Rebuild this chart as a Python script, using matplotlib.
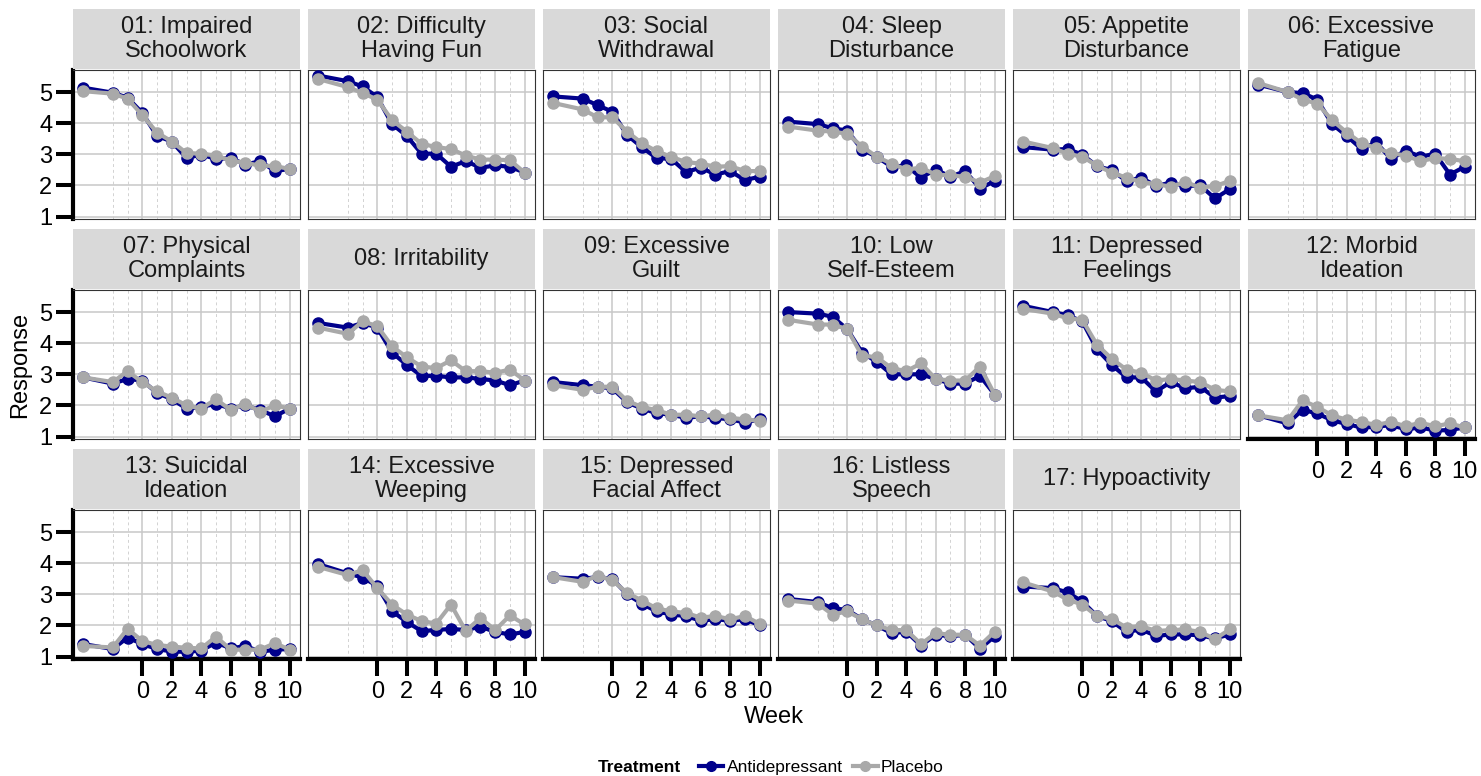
import matplotlib
matplotlib.use("Agg")
import matplotlib.pyplot as plt
from matplotlib.patches import Rectangle
from matplotlib.lines import Line2D

plt.rcParams['font.family'] = ['Liberation Sans', 'DejaVu Sans']

weeks = [-4, -2, -1, 0, 1, 2, 3, 4, 5, 6, 7, 8, 9, 10]

items = [
    "01: Impaired\nSchoolwork", "02: Difficulty\nHaving Fun", "03: Social\nWithdrawal",
    "04: Sleep\nDisturbance", "05: Appetite\nDisturbance", "06: Excessive\nFatigue",
    "07: Physical\nComplaints", "08: Irritability", "09: Excessive\nGuilt",
    "10: Low\nSelf-Esteem", "11: Depressed\nFeelings", "12: Morbid\nIdeation",
    "13: Suicidal\nIdeation", "14: Excessive\nWeeping", "15: Depressed\nFacial Affect",
    "16: Listless\nSpeech", "17: Hypoactivity",
]

# mean response by week, one row per item
antidepressant = [
    [5.14, 4.98, 4.82, 4.33, 3.59, 3.41, 2.88, 2.99, 2.85, 2.88, 2.67, 2.78, 2.46, 2.53],
    [5.53, 5.35, 5.18, 4.84, 3.97, 3.59, 3.02, 3.02, 2.60, 2.78, 2.57, 2.64, 2.60, 2.41],
    [4.86, 4.79, 4.58, 4.37, 3.62, 3.23, 2.88, 2.85, 2.43, 2.57, 2.35, 2.46, 2.17, 2.28],
    [4.05, 3.97, 3.84, 3.76, 3.15, 2.92, 2.60, 2.64, 2.25, 2.51, 2.28, 2.46, 1.90, 2.14],
    [3.23, 3.15, 3.17, 2.99, 2.62, 2.49, 2.14, 2.25, 1.98, 2.09, 1.98, 2.00, 1.58, 1.88],
    [5.24, 5.00, 4.97, 4.76, 3.97, 3.59, 3.17, 3.38, 2.85, 3.12, 2.92, 3.02, 2.35, 2.60],
    [2.90, 2.70, 2.85, 2.80, 2.40, 2.20, 1.90, 1.95, 2.05, 1.90, 2.00, 1.85, 1.65, 1.90],
    [4.65, 4.50, 4.65, 4.50, 3.70, 3.30, 2.95, 2.95, 2.90, 2.90, 2.85, 2.80, 2.65, 2.80],
    [2.75, 2.65, 2.60, 2.55, 2.10, 1.90, 1.75, 1.70, 1.60, 1.65, 1.60, 1.55, 1.45, 1.55],
    [5.00, 4.95, 4.85, 4.45, 3.70, 3.40, 3.00, 3.00, 3.00, 2.85, 2.70, 2.70, 2.95, 2.35],
    [5.20, 5.00, 4.90, 4.70, 3.80, 3.30, 2.90, 2.90, 2.45, 2.75, 2.55, 2.60, 2.25, 2.30],
    [1.68, 1.42, 1.86, 1.74, 1.52, 1.40, 1.29, 1.31, 1.37, 1.23, 1.29, 1.19, 1.21, 1.29],
    [1.40, 1.24, 1.61, 1.40, 1.24, 1.16, 1.15, 1.19, 1.45, 1.26, 1.34, 1.15, 1.22, 1.24],
    [3.97, 3.67, 3.54, 3.27, 2.46, 2.11, 1.82, 1.85, 1.89, 1.85, 1.96, 1.79, 1.71, 1.79],
    [3.55, 3.50, 3.55, 3.50, 3.00, 2.70, 2.45, 2.35, 2.30, 2.15, 2.20, 2.15, 2.20, 2.00],
    [2.85, 2.75, 2.55, 2.50, 2.20, 2.00, 1.75, 1.80, 1.35, 1.70, 1.65, 1.70, 1.25, 1.65],
    [3.25, 3.20, 3.06, 2.77, 2.30, 2.14, 1.79, 1.87, 1.66, 1.71, 1.71, 1.68, 1.58, 1.71],
]

placebo = [
    [5.03, 4.95, 4.79, 4.26, 3.70, 3.41, 3.04, 3.02, 2.96, 2.80, 2.72, 2.64, 2.62, 2.53],
    [5.42, 5.16, 4.97, 4.76, 4.10, 3.73, 3.34, 3.23, 3.17, 2.96, 2.83, 2.83, 2.81, 2.41],
    [4.65, 4.44, 4.19, 4.19, 3.73, 3.36, 3.10, 2.92, 2.75, 2.70, 2.60, 2.62, 2.46, 2.46],
    [3.89, 3.76, 3.73, 3.66, 3.25, 2.92, 2.70, 2.51, 2.57, 2.35, 2.32, 2.28, 2.09, 2.30],
    [3.41, 3.20, 3.02, 2.92, 2.64, 2.41, 2.25, 2.11, 2.04, 1.96, 2.11, 1.93, 1.98, 2.14],
    [5.29, 5.00, 4.76, 4.63, 4.10, 3.70, 3.36, 3.20, 3.04, 2.96, 2.78, 2.88, 2.85, 2.78],
    [2.90, 2.75, 3.10, 2.75, 2.45, 2.25, 2.00, 1.90, 2.20, 1.85, 2.05, 1.80, 2.00, 1.90],
    [4.50, 4.30, 4.70, 4.55, 3.90, 3.55, 3.25, 3.20, 3.45, 3.10, 3.10, 3.05, 3.15, 2.80],
    [2.65, 2.50, 2.60, 2.60, 2.15, 1.95, 1.85, 1.70, 1.70, 1.65, 1.70, 1.60, 1.55, 1.50],
    [4.75, 4.60, 4.60, 4.45, 3.60, 3.55, 3.20, 3.10, 3.35, 2.85, 2.80, 2.80, 3.25, 2.35],
    [5.10, 4.95, 4.80, 4.75, 3.95, 3.50, 3.15, 3.05, 2.80, 2.85, 2.80, 2.75, 2.50, 2.45],
    [1.68, 1.52, 2.16, 1.95, 1.68, 1.54, 1.47, 1.37, 1.47, 1.33, 1.44, 1.33, 1.42, 1.29],
    [1.34, 1.29, 1.89, 1.50, 1.37, 1.32, 1.28, 1.26, 1.64, 1.22, 1.22, 1.22, 1.43, 1.22],
    [3.88, 3.62, 3.78, 3.20, 2.67, 2.35, 2.14, 2.06, 2.67, 1.82, 2.24, 1.85, 2.32, 2.03],
    [3.55, 3.40, 3.60, 3.45, 3.05, 2.80, 2.55, 2.45, 2.40, 2.25, 2.30, 2.20, 2.30, 2.05],
    [2.80, 2.70, 2.35, 2.45, 2.20, 2.00, 1.85, 1.85, 1.40, 1.75, 1.70, 1.70, 1.35, 1.80],
    [3.38, 3.09, 2.83, 2.67, 2.30, 2.21, 1.93, 1.98, 1.82, 1.85, 1.87, 1.79, 1.56, 1.87],
]

treatments = ["Antidepressant", "Placebo"]
colors = ["#00008B", "#A9A9A9"]

W, H = 1481, 776
fig = plt.figure(figsize=(W / 100, H / 100), dpi=100)

ncol = 6
pw, ph = 227, 149
for i, label in enumerate(items):
    r, c = divmod(i, ncol)
    left = 73 + c * 235
    top = 70 + r * 220
    ax = fig.add_axes([left / W, 1 - (top + ph) / H, pw / W, ph / H])

    for vals, col in zip([antidepressant[i], placebo[i]], colors):
        ax.plot(weeks, vals, color=col, lw=3, marker='o', ms=8, zorder=3)

    ax.set_xlim(-4.7, 10.7)
    ax.set_ylim(0.92, 5.71)
    ax.set_xticks([0, 2, 4, 6, 8, 10])
    ax.set_xticks([-2, -1, 1, 3, 5, 7, 9], minor=True)
    ax.set_yticks([1, 2, 3, 4, 5])
    ax.grid(which='major', color='#c8c8c8', lw=1.1)
    ax.grid(which='minor', axis='x', color='#d2d2d2', lw=0.7, ls=(0, (3, 3)))
    ax.set_axisbelow(True)

    for s in ax.spines.values():
        s.set_color('#333333')
        s.set_linewidth(0.8)

    has_x = i >= 11
    has_y = c == 0
    ax.tick_params(which='minor', length=0)
    ax.tick_params(axis='x', which='major', length=12 if has_x else 0, width=2.9,
                   color='black', labelsize=17, pad=4, labelbottom=has_x)
    ax.tick_params(axis='y', which='major', length=12 if has_y else 0, width=2.9,
                   color='black', labelsize=17, pad=3, labelleft=has_y)
    if has_x:
        ax.spines['bottom'].set_color('black')
        ax.spines['bottom'].set_linewidth(3)
    if has_y:
        ax.spines['left'].set_color('black')
        ax.spines['left'].set_linewidth(3)

    # facet strip
    fig.add_artist(Rectangle((left / W, 1 - (top - 1) / H), pw / W, 60 / H,
                             transform=fig.transFigure, facecolor='#d9d9d9',
                             edgecolor='none'))
    fig.text((left + pw / 2) / W, 1 - (top - 31) / H, label, ha='center', va='center',
             fontsize=17, color='#1a1a1a', linespacing=1.1)

fig.text(20 / W, 1 - 365 / H, "Response", rotation=90, ha='center', va='center', fontsize=17)
fig.text(774 / W, 1 - 717 / H, "Week", ha='center', va='center', fontsize=17)

fig.text(598 / W, 1 - 767 / H, "Treatment", ha='left', va='center', fontsize=12.5,
         fontweight='bold')
handles = [Line2D([], [], color=col, lw=3, marker='o', ms=7) for col in colors]
fig.legend(handles, treatments, loc='center left', bbox_to_anchor=(699 / W, 1 - 767 / H),
           ncol=2, frameon=False, fontsize=12.5, handlelength=1.4, handletextpad=0.2,
           columnspacing=0.6, borderpad=0, borderaxespad=0)

fig.savefig("out.png", dpi=100)
